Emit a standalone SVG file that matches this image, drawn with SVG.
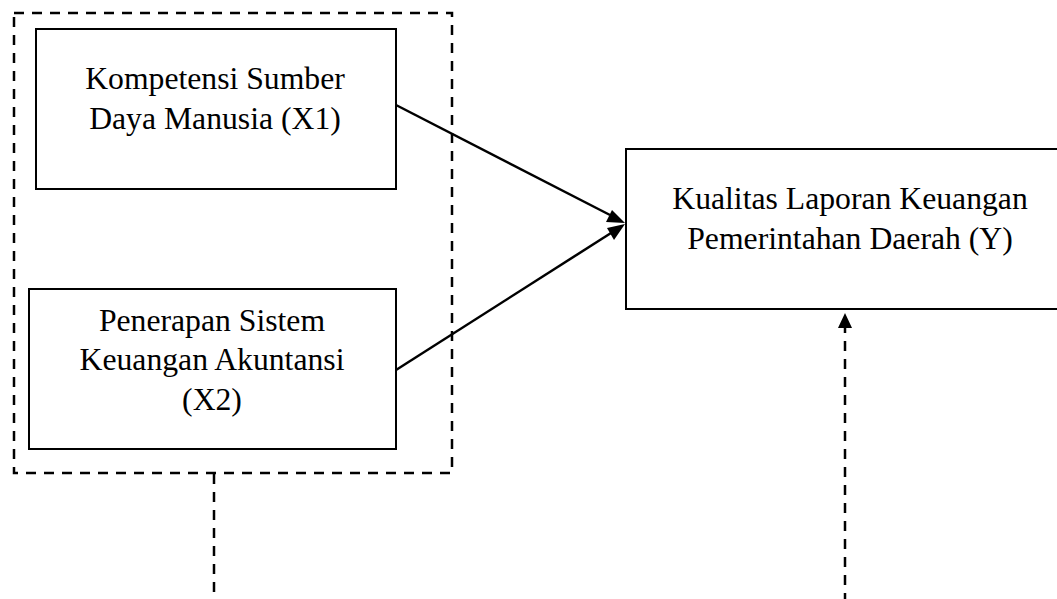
<svg xmlns="http://www.w3.org/2000/svg" width="1057" height="599" viewBox="0 0 1057 599">
<style>
.box{fill:#fff;stroke:#000;stroke-width:2}
.dash{fill:none;stroke:#000;stroke-width:2.5;stroke-dasharray:10 8}
.conn{fill:none;stroke:#000;stroke-width:2.5}
.head{fill:#000}
text{font-family:"Liberation Serif","Times New Roman",serif;font-size:31.7px;fill:#000;text-anchor:middle}
</style>
<rect width="1057" height="599" fill="#fff"/>
<g id="group-x">
<rect class="dash" x="14" y="13" width="438" height="460"/>
</g>
<g id="x1">
<rect class="box" x="36" y="29" width="360" height="160"/>
<text x="215" y="89">Kompetensi Sumber</text>
<text x="215" y="129">Daya Manusia (X1)</text>
</g>
<g id="x2">
<rect class="box" x="29" y="289" width="367" height="160"/>
<text x="212" y="331">Penerapan Sistem</text>
<text x="212" y="370">Keuangan Akuntansi</text>
<text x="212" y="410">(X2)</text>
</g>
<g id="y">
<rect class="box" x="626" y="149" width="450" height="160"/>
<text x="850" y="209">Kualitas Laporan Keuangan</text>
<text x="850" y="249">Pemerintahan Daerah (Y)</text>
</g>
<g id="connectors">
<line class="conn" x1="396" y1="105" x2="610" y2="215"/>
<path class="head" d="M625,223 L606,222 L612,210 z"/>
<line class="conn" x1="396" y1="370" x2="611" y2="233"/>
<path class="head" d="M625,224 L614,240 L607,228 z"/>
<line class="dash" x1="214" y1="474" x2="214" y2="599"/>
<line class="dash" x1="845" y1="599" x2="845" y2="326" style="stroke-dashoffset:4"/>
<path class="head" d="M845,313 L852,328 L838,328 z"/>
</g>
</svg>
